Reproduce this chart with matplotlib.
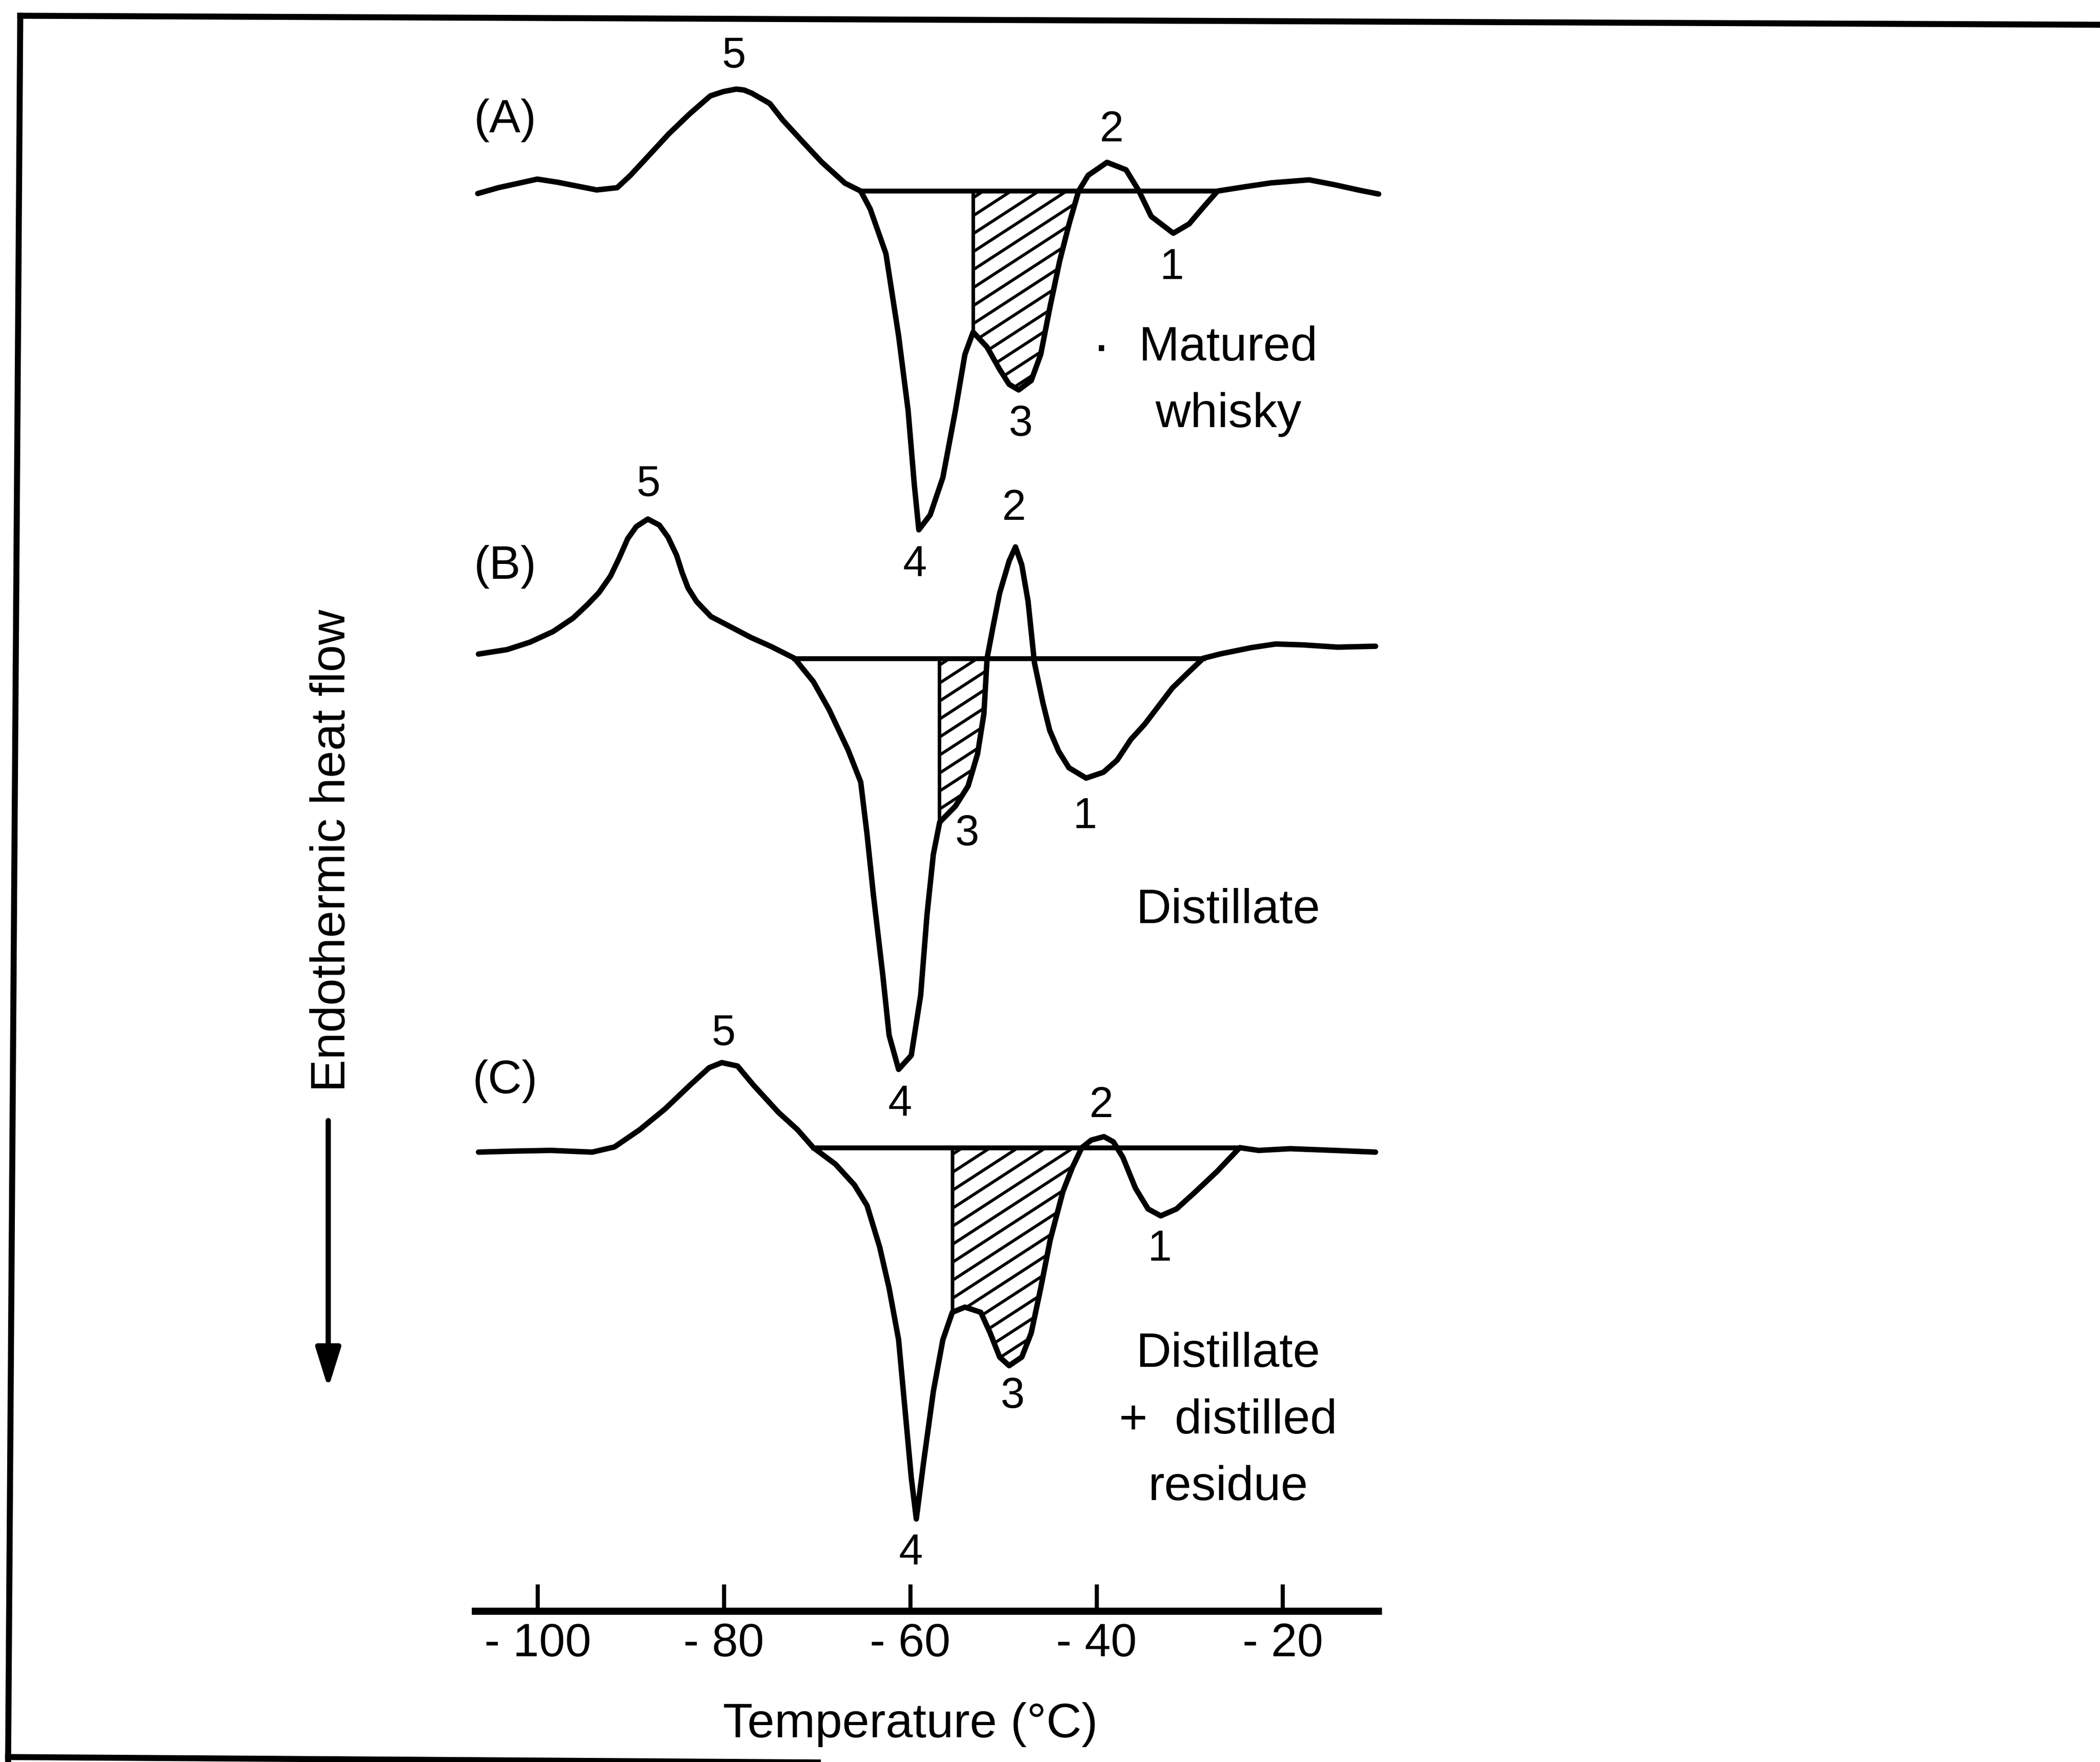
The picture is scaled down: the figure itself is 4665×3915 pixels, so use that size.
import numpy as np
import matplotlib.pyplot as plt
from matplotlib.lines import Line2D
from matplotlib.patches import Polygon

plt.rcParams['font.family'] = ['Liberation Sans', 'DejaVu Sans']

# DSC traces, temperature (deg C) and heat-flow deflection from baseline (a.u.)
temp_a = [-106.43, -104.22, -100.04, -97.84, -93.66, -91.46, -90.06, -88.13, -85.90, -83.68,
          -81.46, -80.06, -78.68, -77.84, -77.01, -75.07, -73.67, -71.45, -69.51, -67.00,
          -65.31, -64.29, -62.60, -61.24, -60.22, -59.55, -59.07, -57.85, -56.49,
          -55.14, -54.12, -53.24, -51.75, -50.39, -49.37, -48.35, -47.00, -45.98, -44.96,
          -43.95, -42.93, -41.91, -40.89, -38.86, -36.82, -35.47, -34.11, -31.74, -30.04,
          -28.68, -26.99, -23.93, -21.22, -17.15, -14.44, -11.72, -9.69]
flow_a = [-0.055, 0.075, 0.265, 0.195, 0.025, 0.075, 0.345, 0.775, 1.275, 1.715,
          2.115, 2.210, 2.265, 2.245, 2.175, 1.945, 1.575, 1.075, 0.645, 0.175,
          0.0, -0.398, -1.393, -3.217, -4.875, -6.533, -7.527, -7.196, -6.367,
          -4.875, -3.631, -3.134, -3.465, -3.963, -4.294, -4.419, -4.211, -3.631, -2.553,
          -1.559, -0.730, 0.0, 0.348, 0.638, 0.473, 0.017, -0.564, -0.937, -0.730,
          -0.398, 0.0, 0.099, 0.182, 0.249, 0.141, 0.017, -0.066]

temp_b = [-106.36, -103.28, -100.81, -98.35, -96.19, -94.65, -93.42, -92.18, -91.25, -90.33,
          -89.41, -88.17, -86.94, -86.01, -85.09, -84.47, -83.85, -82.93, -81.39, -79.23,
          -77.07, -74.91, -72.43, -70.40, -68.70, -66.67, -65.31,
          -64.63, -63.95, -62.94, -62.26, -61.24, -59.88, -58.87, -58.19, -57.51, -56.83,
          -55.14, -53.78, -52.76, -52.08, -51.74, -51.07, -50.39, -49.37, -48.69, -48.01,
          -47.34, -46.65, -45.73, -45.01, -44.06, -42.95, -41.10, -39.25, -37.77, -36.30,
          -34.80, -33.33, -31.85, -30.37, -28.52, -26.68, -23.35, -20.75, -17.79, -14.11,
          -10.02]
flow_b = [0.093, 0.193, 0.359, 0.593, 0.893, 1.193, 1.459, 1.826, 2.226, 2.659,
          2.926, 3.093, 2.959, 2.693, 2.293, 1.893, 1.559, 1.259, 0.926, 0.693,
          0.459, 0.259, 0.0, -0.518, -1.143, -2.036, -2.750,
          -3.911, -5.251, -7.037, -8.376, -9.135, -8.823, -7.483, -5.697, -4.358, -3.643,
          -3.286, -2.840, -2.125, -1.232, 0.0, 0.732, 1.447, 2.161, 2.474, 2.072,
          1.268, -0.103, -1.003, -1.603, -2.063, -2.433, -2.663, -2.533, -2.263, -1.803,
          -1.463, -1.063, -0.663, -0.363, 0.0, 0.097, 0.237, 0.317, 0.297, 0.247,
          0.267]

temp_c = [-106.35, -102.62, -98.55, -94.14, -91.76, -89.05, -86.34, -83.62, -81.59, -80.23,
          -78.54, -76.84, -74.13, -72.09, -70.40, -68.02, -65.99, -64.63, -63.28, -62.26,
          -61.24, -60.56, -59.88, -59.34, -58.53, -57.51, -56.49, -55.47, -54.12, -52.42,
          -51.41, -50.39, -49.37, -48.01, -47.00, -45.98, -44.96, -43.60, -42.59, -41.57,
          -40.55, -39.19, -38.18, -37.16, -35.80, -34.45, -33.09, -31.40, -29.36, -27.00,
          -24.61, -22.58, -19.19, -14.44, -10.03]
flow_c = [-0.099, -0.077, -0.061, -0.099, 0.015, 0.398, 0.857, 1.393, 1.776, 1.890,
          1.814, 1.393, 0.781, 0.398, 0.0, -0.367, -0.827, -1.286, -2.204, -3.122,
          -4.270, -5.801, -7.331, -8.250, -6.949, -5.418, -4.270, -3.658, -3.543, -3.658,
          -4.117, -4.653, -4.844, -4.653, -4.117, -3.122, -2.051, -0.980, -0.444, 0.0,
          0.168, 0.245, 0.130, -0.214, -0.903, -1.362, -1.515, -1.362, -0.980, -0.520,
          0.0, -0.061, -0.023, -0.061, -0.099]

# baseline construction and shaded (hatched) region limits
base_a = (-65.31, -26.99)
base_b = (-72.43, -28.52)
base_c = (-70.40, -24.61)
hatch_a = (-53.24, -41.91)
hatch_b = (-56.83, -51.74)
hatch_c = (-55.47, -41.57)

panel_names = ['(A)', '(B)', '(C)']
sample_names = ['Matured\nwhisky', 'Distillate', 'Distillate\n+  distilled\nresidue']

peak_labels = ['5', '4', '3', '2', '1']
peak_temp_a = [-78.94, -59.51, -48.14, -38.37, -31.90]
peak_temp_b = [-88.12, -61.10, -53.90, -48.87, -41.23]
peak_temp_c = [-80.05, -59.94, -49.00, -39.52, -33.20]

xticks = [-100, -80, -60, -40, -20]
xticklabels = ['- 100', '- 80', '- 60', '- 40', '- 20']

fig = plt.figure(figsize=(15.55, 13.05), dpi=300)
ax = fig.add_axes([0.22633, 0.08557, 0.43012, 0.91443])
ax.set_xlim(-106.7, -9.7)
ax.set_ylim(0, 35.80)
ax.patch.set_visible(False)
for s in ['left', 'top', 'right']:
    ax.spines[s].set_visible(False)
ax.spines['bottom'].set_linewidth(3.8)
ax.set_yticks([])
ax.set_xticks(xticks)
ax.set_xticklabels(xticklabels)
ax.tick_params(axis='x', direction='in', length=14.5, width=2.2, pad=6, labelsize=25)

offsets = [31.555, 21.174, 10.30]
temps = [temp_a, temp_b, temp_c]
flows = [flow_a, flow_b, flow_c]
bases = [base_a, base_b, base_c]
hatches = [hatch_a, hatch_b, hatch_c]
peak_temps = [peak_temp_a, peak_temp_b, peak_temp_c]
# vertical placement of the peak numbers (same order as peak_labels)
peak_y = [[34.55, 23.25, 26.37, 32.91, 29.85],
          [25.03, 11.26, 17.27, 24.50, 17.65],
          [12.83, 1.29, 4.77, 11.23, 8.04]]
panel_y = [33.12, 23.20, 11.77]
sample_y = [27.33, 15.57, 4.23]

# hand-drawn style hatching: lines at ~33 deg, ~0.4 units apart vertically
hatch_slope = np.tan(np.radians(33)) * 20.685 / 100
hatch_step = 0.40


def hatch_region(t, f, off, t0, t1):
    m = (t >= t0) & (t <= t1)
    tt, ff = t[m], f[m]
    verts = list(zip(tt, ff + off)) + [(t1, off), (t0, off)]
    patch = Polygon(verts, closed=True, facecolor='none', edgecolor='none')
    ax.add_patch(patch)
    lowest = ff.min() - hatch_slope * (t1 - t0) - hatch_step
    c = -0.15
    while c > lowest:
        ln, = ax.plot([t0, t1], [off + c, off + c + hatch_slope * (t1 - t0)],
                      color='black', lw=1.6, solid_capstyle='butt')
        ln.set_clip_path(patch)
        c -= hatch_step
    ax.plot([t0, t0], [off, off + ff[0]], color='black', lw=1.9)


for i in range(3):
    t = np.array(temps[i])
    f = np.array(flows[i])
    off = offsets[i]
    ax.plot(t, f + off, color='black', lw=2.9, solid_joinstyle='round',
            solid_capstyle='round', clip_on=False)
    ax.plot(bases[i], [off, off], color='black', lw=2.6)
    hatch_region(t, f, off, *hatches[i])
    ax.text(-103.5, panel_y[i], panel_names[i], fontsize=25, ha='center', va='center')
    for lab, pt, py in zip(peak_labels, peak_temps[i], peak_y[i]):
        ax.text(pt, py, lab, fontsize=23, ha='center', va='center')
    ax.text(-25.85, sample_y[i], sample_names[i], fontsize=26, ha='center', va='center',
            linespacing=1.62)

# bullet before "Matured"
ax.text(-39.5, 28.05, '\u00b7', fontsize=30, ha='center', va='center')

ax.text(-60, -2.8, 'Temperature (\u00b0C)', fontsize=26, ha='center', va='baseline')

fig.text(0.1582, 0.5172, 'Endothermic heat flow', rotation=90, fontsize=26,
         ha='center', va='center')
ax.annotate('', xy=(0.1563, 0.2120), xytext=(0.1563, 0.3640),
            xycoords='figure fraction', textcoords='figure fraction',
            arrowprops=dict(arrowstyle='-|>,head_length=0.45,head_width=0.14',
                            mutation_scale=40, lw=2.8, color='black',
                            shrinkA=0, shrinkB=0))

# scanned page frame
W, H = 4665.0, 3915.0
frame = [((45, 35), (4665, 55)), ((45, 35), (18, 3915)), ((18, 3904), (4665, 3935))]
for (x0, y0), (x1, y1) in frame:
    fig.add_artist(Line2D([x0 / W, x1 / W], [1 - y0 / H, 1 - y1 / H],
                          transform=fig.transFigure, color='black', lw=3.2))

fig.savefig('out.png', dpi=300)
